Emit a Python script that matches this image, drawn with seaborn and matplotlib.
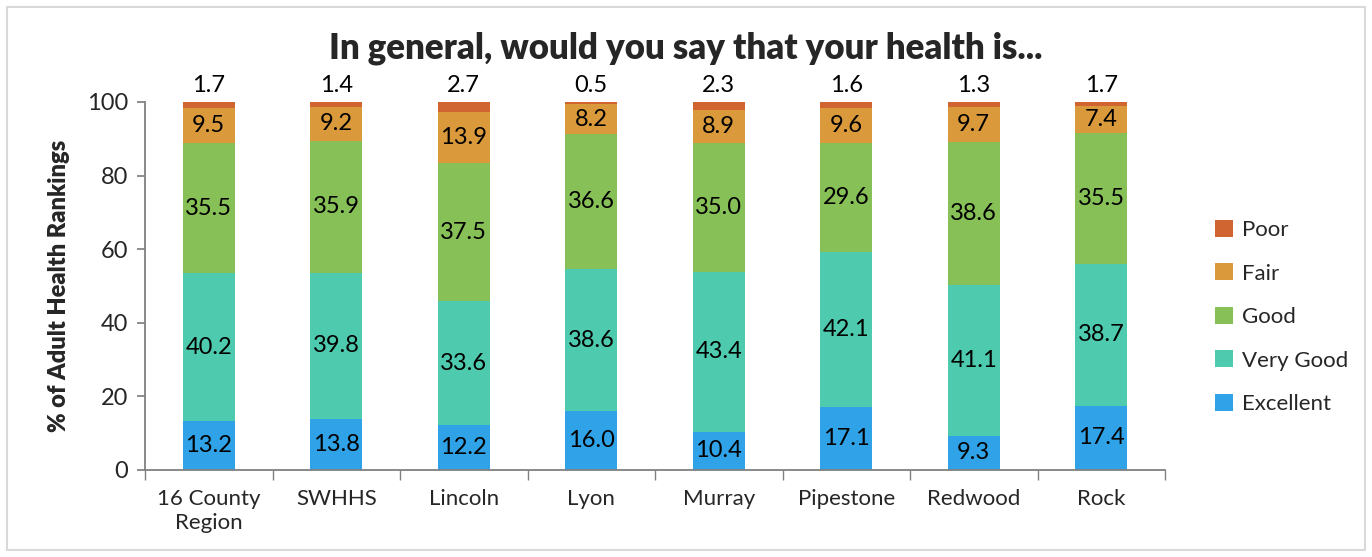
import matplotlib
matplotlib.use("Agg")
import matplotlib.pyplot as plt
import seaborn as sns
import numpy as np
from matplotlib.patches import Rectangle, Patch

categories = ["16 County\nRegion", "SWHHS", "Lincoln", "Lyon", "Murray", "Pipestone", "Redwood", "Rock"]
excellent = [13.2, 13.8, 12.2, 16.0, 10.4, 17.1, 9.3, 17.4]
very_good = [40.2, 39.8, 33.6, 38.6, 43.4, 42.1, 41.1, 38.7]
good = [35.5, 35.9, 37.5, 36.6, 35.0, 29.6, 38.6, 35.5]
fair = [9.5, 9.2, 13.9, 8.2, 8.9, 9.6, 9.7, 7.4]
poor = [1.7, 1.4, 2.7, 0.5, 2.3, 1.6, 1.3, 1.7]
series_names = ["Excellent", "Very Good", "Good", "Fair", "Poor"]
yticks = [0, 20, 40, 60, 80, 100]

colors = ["#30A3E8", "#4ECBAE", "#86C057", "#DA9A3C", "#D06532"]

sns.set_theme(style="white")
plt.rcParams['font.family'] = ['Lato', 'DejaVu Sans']

fig = plt.figure(figsize=(13.72, 5.57), dpi=100)
ax = fig.add_axes([145/1372, 87/557, (1165-145)/1372, (470-102)/557])

series = [excellent, very_good, good, fair, poor]
bottom = np.zeros(len(categories))
for name, vals, col in zip(series_names, series, colors):
    sns.barplot(x=categories, y=vals, bottom=bottom, color=col, width=0.41,
                ax=ax, saturation=1, linewidth=0)
    for i, v in enumerate(vals):
        if name == "Poor":
            ax.text(i, 101.5, f"{v:.1f}", ha="center", va="bottom", fontsize=17, color="black")
        else:
            ax.text(i, bottom[i] + v / 2, f"{v:.1f}", ha="center", va="center", fontsize=17, color="black")
    bottom = bottom + np.array(vals)

if ax.get_legend() is not None:
    ax.get_legend().remove()

ax.set_ylim(0, 100)
ax.set_xlim(-0.5, len(categories) - 0.5)
ax.set_yticks(yticks)
ax.set_yticklabels([str(t) for t in yticks], fontsize=17)
ax.tick_params(axis="y", which="major", length=6, color="#808080", direction="out", left=True, pad=6)
ax.set_xticks(range(len(categories)))
ax.set_xticklabels(categories, fontsize=16)
ax.tick_params(axis="x", which="major", length=0, pad=14)
ax.set_xticks(np.arange(-0.5, len(categories)), minor=True)
ax.tick_params(axis="x", which="minor", length=7, color="#808080", direction="out", bottom=True)
for s in ["top", "right"]:
    ax.spines[s].set_visible(False)
for s in ["left", "bottom"]:
    ax.spines[s].set_color("#808080")
    ax.spines[s].set_linewidth(1.3)
ax.set_ylabel("% of Adult Health Rankings", fontsize=17, fontweight="heavy", labelpad=12)
ax.set_xlabel("")

fig.text(686/1372, 1 - 48/557, "In general, would you say that your health is...",
         ha="center", va="center", fontsize=25, fontweight="heavy")

handles = [Patch(facecolor=c, edgecolor="none") for c in colors][::-1]
labels = series_names[::-1]
fig.legend(handles, labels, loc="center left", bbox_to_anchor=(1195/1372, 1 - 317/557),
           frameon=False, fontsize=16, handlelength=0.8, handleheight=0.8,
           labelspacing=1.05, handletextpad=0.4)

fig.patches.append(Rectangle((7/1372, 7/557), 1358/1372, 543/557, transform=fig.transFigure,
                             fill=False, edgecolor="#D9D9D9", linewidth=1.5))

fig.savefig("out.png", dpi=100)
